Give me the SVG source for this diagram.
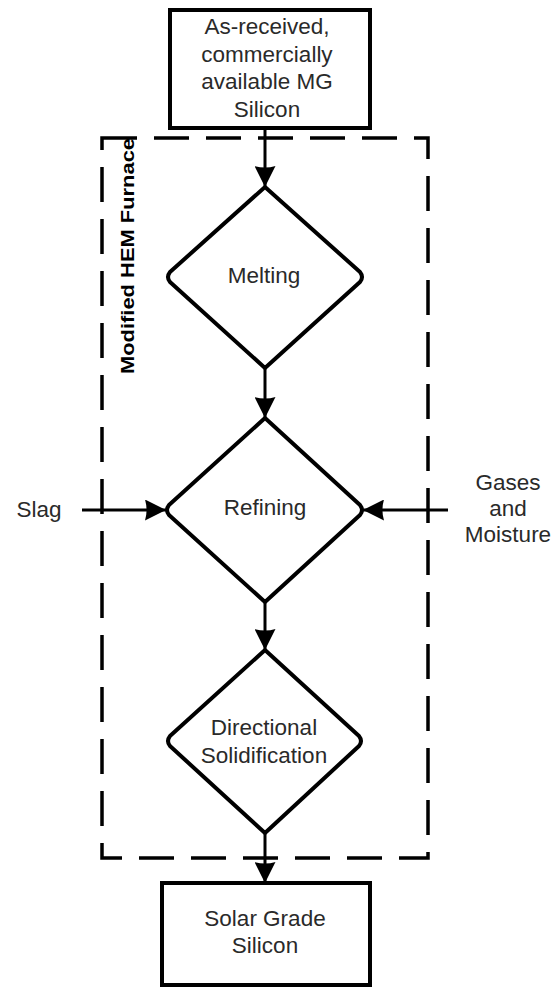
<svg xmlns="http://www.w3.org/2000/svg" width="552" height="987" viewBox="0 0 552 987">
<defs>
<style>
.box{fill:#fff;stroke:#000;stroke-width:4}
.dia{fill:#fff;stroke:#000;stroke-width:4;stroke-linejoin:round}
.t{font-family:"Liberation Sans",Arial,sans-serif;font-size:22.5px;fill:#2a2a2a;text-anchor:middle}
.conn{stroke:#000;stroke-width:3;fill:none}
.frame{fill:none;stroke:#000;stroke-width:3.5;stroke-dasharray:35 17}
.lbl{font-family:"Liberation Sans",Arial,sans-serif;font-size:18px;font-weight:bold;fill:#000;text-anchor:middle}
</style>
<marker id="ah" viewBox="0 0 20 20" refX="20" refY="10" markerWidth="21" markerHeight="21" markerUnits="userSpaceOnUse" orient="auto">
<path d="M0,0 Q8,4 20,10 Q8,16 0,20 Q3,10 0,0 Z" fill="#000"/>
</marker>
</defs>
<rect id="furnace" class="frame" x="102" y="138" width="326" height="720"/>
<text class="lbl" transform="translate(134,256) rotate(-90)" textLength="236" lengthAdjust="spacingAndGlyphs">Modified HEM Furnace</text>
<g id="connectors">
<line class="conn" x1="265" y1="128" x2="265" y2="187" marker-end="url(#ah)"/>
<line class="conn" x1="265" y1="368" x2="265" y2="418" marker-end="url(#ah)"/>
<line class="conn" x1="265" y1="602" x2="265" y2="650" marker-end="url(#ah)"/>
<line class="conn" x1="265" y1="833" x2="265" y2="883" marker-end="url(#ah)"/>
<line class="conn" x1="82" y1="510" x2="166" y2="510" marker-end="url(#ah)"/>
<line class="conn" x1="448" y1="510" x2="363" y2="510" marker-end="url(#ah)"/>
</g>
<g id="input">
<rect class="box" x="170" y="10" width="200" height="118"/>
<text class="t" x="267" y="34">As-received,</text>
<text class="t" x="267" y="61.5">commercially</text>
<text class="t" x="267" y="89">available MG</text>
<text class="t" x="267" y="116.5">Silicon</text>
</g>
<g id="melting">
<path class="dia" d="M265,187 L360,272 Q364,277 360,282 L265,368 L170,282 Q166,277 170,272 Z"/>
<text class="t" x="264" y="283">Melting</text>
</g>
<g id="refining">
<path class="dia" d="M265,418 L360,505 Q364,510 360,515 L265,602 L169,515 Q165,510 169,505 Z"/>
<text class="t" x="265" y="515">Refining</text>
</g>
<g id="solidification">
<path class="dia" d="M265,650 L359,736 Q363,741 359,746 L265,833 L170,746 Q166,741 170,736 Z"/>
<text class="t" x="264" y="735">Directional</text>
<text class="t" x="264" y="762.5">Solidification</text>
</g>
<g id="output">
<rect class="box" x="162" y="883" width="208" height="102"/>
<text class="t" x="265" y="926">Solar Grade</text>
<text class="t" x="265" y="953">Silicon</text>
</g>
<g id="slag">
<text class="t" x="39" y="517">Slag</text>
</g>
<g id="gases">
<text class="t" x="508" y="490">Gases</text>
<text class="t" x="508" y="516">and</text>
<text class="t" x="508" y="542">Moisture</text>
</g>
</svg>
